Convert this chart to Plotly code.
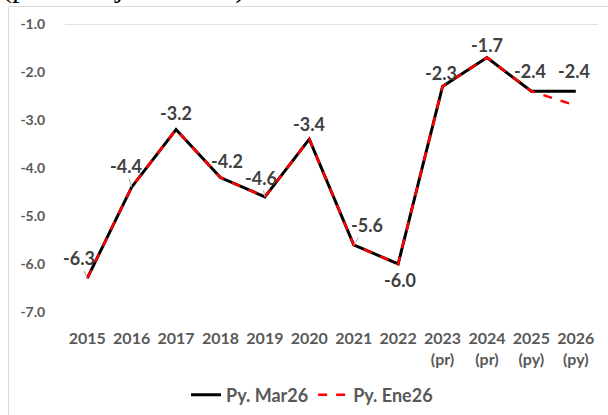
import plotly.graph_objects as go

years = ["2015", "2016", "2017", "2018", "2019", "2020", "2021", "2022",
         "2023<br>(pr)", "2024<br>(pr)", "2025<br>(py)", "2026<br>(py)"]
py_mar26 = [-6.3, -4.4, -3.2, -4.2, -4.6, -3.4, -5.6, -6.0, -2.3, -1.7, -2.4, -2.4]
py_ene26 = [-6.3, -4.4, -3.2, -4.2, -4.6, -3.4, -5.6, -6.0, -2.3, -1.7, -2.4, -2.7]
y_ticks = [-1.0, -2.0, -3.0, -4.0, -5.0, -6.0, -7.0]

# label placement (style): pixel offsets of each data label from its point
label_offsets = [(-8, -20), (-6, -21), (0, -17), (7, -17), (-4, -19), (0, -15),
                 (13, -20), (2, 16), (-2, -13), (0, -13), (-1, -20), (-2, -20)]
leader = [True, True, False, False, True, False, True, False, False, False, False, False]

W, H = 608, 415
ML, MR, MT, MB = 65, 10, 24, 103
PW, PH = W - ML - MR, H - MT - MB

def px_x(p):
    return (p - ML) / PW

def px_y(p):
    return (H - MB - p) / PH

fig = go.Figure()
fig.add_trace(go.Scatter(x=years, y=py_mar26, mode="lines", name="Py. Mar26",
                         line=dict(color="#000000", width=3)))
fig.add_trace(go.Scatter(x=years, y=py_ene26, mode="lines", name="Py. Ene26",
                         line=dict(color="#ff0000", width=2.5, dash="dash")))

for i, (yv, (dx, dy), ld) in enumerate(zip(py_mar26, label_offsets, leader)):
    fig.add_annotation(x=i, y=yv, text=f"{yv:.1f}", showarrow=ld,
                       ax=dx, ay=dy, axref="pixel", ayref="pixel",
                       arrowhead=0, arrowwidth=1, arrowcolor="#a6a6a6",
                       xshift=0 if ld else dx, yshift=0 if ld else -dy,
                       font=dict(family="Lato", size=18, color="#404040", weight="bold"))

# title text, mostly cut off at the top
fig.add_annotation(xref="paper", yref="paper", x=px_x(0), y=px_y(6),
                   xanchor="left", yanchor="bottom", showarrow=False,
                   text="(porcentaje del PIB)",
                   font=dict(family="Liberation Serif", size=30, color="#000000"))

# frame border (left and top edges)
fig.add_shape(type="line", xref="paper", yref="paper",
              x0=px_x(8.5), x1=px_x(8.5), y0=px_y(6.5), y1=px_y(415),
              line=dict(color="#d9d9d9", width=1), layer="below")
fig.add_shape(type="line", xref="paper", yref="paper",
              x0=px_x(8.5), x1=px_x(608), y0=px_y(6.5), y1=px_y(6.5),
              line=dict(color="#d9d9d9", width=1), layer="below")
# top axis line at -1.0
fig.add_shape(type="line", xref="paper", yref="y", x0=0, x1=1, y0=-1.0, y1=-1.0,
              line=dict(color="#d9d9d9", width=1.3), layer="below")

fig.update_layout(
    width=W, height=H,
    margin=dict(l=ML, r=MR, t=MT, b=MB, autoexpand=False),
    paper_bgcolor="white", plot_bgcolor="white",
    showlegend=True,
    legend=dict(orientation="h", x=px_x(312), xanchor="center",
                y=px_y(395), yanchor="middle",
                font=dict(family="Lato", size=18, color="#595959", weight="bold"),
                itemwidth=30, tracegroupgap=0),
    xaxis=dict(type="category", showgrid=False, zeroline=False, showline=False,
               automargin=False,
               ticks="outside", ticklen=12, tickcolor="rgba(0,0,0,0)",
               tickfont=dict(family="Lato", size=16, color="#595959", weight="bold"),
               range=[-0.5, len(years) - 0.5]),
    yaxis=dict(range=[-7.0, -1.0], tickvals=y_ticks,
               ticktext=[f"{v:.1f}" for v in y_ticks],
               automargin=False,
               showgrid=False, zeroline=False, showline=False,
               ticks="outside", ticklen=16, tickcolor="rgba(0,0,0,0)",
               tickfont=dict(family="Lato", size=14, color="#595959", weight="bold")),
)

fig.write_html("out.html", config={"displayModeBar": False},
               post_script="document.body.style.margin='0';document.body.style.overflow='hidden';")
